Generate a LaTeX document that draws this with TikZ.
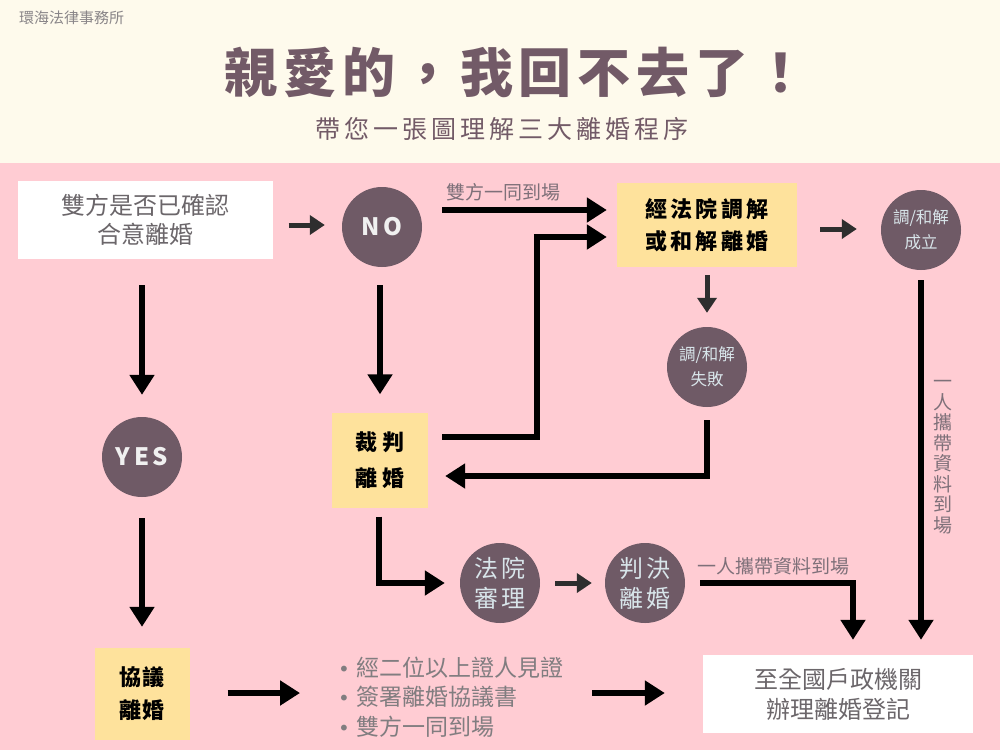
\documentclass[tikz,border=0pt]{standalone}
\usepackage{fontspec}
\setmainfont{Noto Sans CJK TC}
\newfontfamily\dejavu{DejaVu Sans}
\usetikzlibrary{arrows.meta,calc}
\definecolor{cream}{HTML}{FEFAEC}
\definecolor{pinkbg}{HTML}{FFCCD3}
\definecolor{plum}{HTML}{6F5A66}
\definecolor{titlec}{HTML}{725A67}
\definecolor{ybox}{HTML}{FEE29C}
\definecolor{greyt}{HTML}{6B666A}
\definecolor{lblt}{HTML}{7E7079}
\definecolor{circt}{HTML}{D8E5EA}
\definecolor{darkar}{HTML}{2E2E2E}
\newcommand{\bulletmark}{{\dejavu\fontsize{20}{20}\selectfont •}\hspace{6pt}}
\begin{document}
\begin{tikzpicture}[x=1pt,y=-1pt,
  circ/.style={circle,fill=plum,minimum size=80pt,inner sep=0pt,text=circt,align=center,
    font=\fontsize{24}{30}\selectfont\addfontfeature{LetterSpace=10}},
  smallcirc/.style={circ,font=\fontsize{16.5}{25}\selectfont},
  yncirc/.style={circ,text=white!94!black,font=\bfseries\fontsize{24}{30}\selectfont\addfontfeature{LetterSpace=15}},
  wbox/.style={fill=white,text=greyt,align=center,inner sep=0pt,
    font=\fontsize{24}{29}\selectfont},
  ybx/.style={fill=ybox,text=black,align=center,inner sep=0pt,
    font=\bfseries\fontsize{22}{32}\selectfont\addfontfeature{LetterSpace=15}},
  lbl/.style={text=lblt,inner sep=0pt,font=\fontsize{19}{20.5}\selectfont},
  arr/.style={line width=6pt,-{Triangle[length=20pt,width=24pt]}},
  sarr/.style={line width=5pt,darkar,-{Triangle[length=15pt,width=19pt]}}
]
\fill[cream] (0,0) rectangle (1000,163);
\fill[pinkbg] (0,163) rectangle (1000,750);
\useasboundingbox (0,0) rectangle (1000,750);

% header
\node[anchor=west,inner sep=0pt,text=greyt!80,font=\fontsize{15}{18}\selectfont] (firm) at (19,18) {環海法律事務所};
\node[text=titlec,inner sep=0pt,font=\bfseries\fontsize{53}{60}\selectfont\addfontfeature{LetterSpace=11}] (title) at (516,72) {親愛的，我回不去了！};
\node[text=titlec,inner sep=0pt,font=\fontsize{25}{30}\selectfont\addfontfeature{LetterSpace=16}] (sub) at (502,129) {帶您一張圖理解三大離婚程序};

% nodes
\node[wbox,minimum width=255pt,minimum height=78pt] (q) at (145,220) {雙方是否已確認\\合意離婚};
\node[yncirc] (no) at (382,227) {NO};
\node[ybx,minimum width=180pt,minimum height=84pt] (med) at (707,225) {經法院調解\\或和解離婚};
\node[smallcirc] (ok) at (921,230) {調/和解\\成立};
\node[smallcirc] (fail) at (707,367) {調/和解\\失敗};
\node[ybx,minimum width=96pt,minimum height=95pt,font=\bfseries\fontsize{22}{36}\selectfont\addfontfeature{LetterSpace=22}] (judge) at (380,460) {裁判\\離婚};
\node[circ] (court) at (500,583) {法院\\審理};
\node[circ] (verdict) at (645,583) {判決\\離婚};
\node[wbox,minimum width=270pt,minimum height=78pt,font=\fontsize{24}{30}\selectfont] (reg) at (838,694) {至全國戶政機關\\辦理離婚登記};
\node[yncirc] (yes) at (142,457) {YES};
\node[ybx,minimum width=95pt,minimum height=92pt,font=\bfseries\fontsize{22}{33}\selectfont\addfontfeature{LetterSpace=8}] (agree) at (142,694) {協議\\離婚};
\node[anchor=west,inner sep=0pt,text width=240pt,align=left,text=greyt!85,
  font=\fontsize{23}{29.5}\selectfont] (bul) at (338,697)
  {\bulletmark 經二位以上證人見證\\\bulletmark 簽署離婚協議書\\\bulletmark 雙方一同到場};

% labels
\node[lbl,anchor=west] (l1) at (446,192) {雙方一同到場};
\node[lbl,anchor=west] (l2) at (697,566) {一人攜帶資料到場};
\node[lbl,align=center] (l3) at (943,457) {一\\人\\攜\\帶\\資\\料\\到\\場};

% connectors
\draw[sarr] ($(q.east)+(16,5)$) -- ($(no.west)+(-17,-2)$);
\draw[arr] ($(no.east)+(20,-17)$) -- ($(med.west)+(-10,-15)$);
\draw[sarr] ($(med.east)+(23,4)$) -- ($(ok.west)+(-24,-1)$);
\draw[sarr] ($(med.south)+(0,8)$) -- ($(fail.north)+(0,-14)$);
\draw[arr] ($(fail.south)+(0,13)$) |- ($(judge.east)+(17,16)$);
\draw[line width=6pt] ($(judge.east)+(14,-23)$) -| ($(med.west)+(-80,12)$);
\draw[arr] ($(med.west)+(-83,12)$) -- ($(med.west)+(-10,12)$);
\draw[arr] ($(no.south)+(-2,18)$) -- ($(judge.north)+(0,-18)$);
\draw[arr] ($(judge.south)+(-1,9)$) |- ($(court.west)+(-15,0)$);
\draw[sarr] ($(court.east)+(15,0)$) -- ($(verdict.west)+(-13,0)$);
\draw[arr] ($(verdict.east)+(15,0)$) -| ($(reg.north)+(15,-15)$);
\draw[arr] ($(ok.south)+(0,10)$) -- ($(reg.north)+(83,-15)$);
\draw[arr] ($(q.south)+(-3,26)$) -- ($(yes.north)+(0,-22)$);
\draw[arr] ($(yes.south)+(0,21)$) -- ($(agree.north)+(0,-21)$);
\draw[arr] ($(agree.east)+(38,-1)$) -- ($(bul.west)+(-38,-4)$);
\draw[arr] ($(bul.east)+(14,-4)$) -- ($(reg.west)+(-38,-1)$);
\end{tikzpicture}
\end{document}
